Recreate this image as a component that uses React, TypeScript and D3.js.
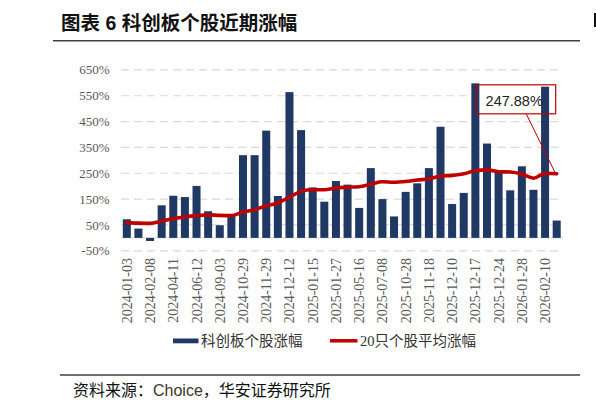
import React from "react";
import * as d3 from "d3";

const tickLabels = [
  "2024-01-03", "2024-02-08", "2024-04-11", "2024-06-12", "2024-09-03",
  "2024-10-29", "2024-11-29", "2024-12-12", "2025-01-15", "2025-01-27",
  "2025-05-16", "2025-07-08", "2025-10-28", "2025-11-18", "2025-12-10",
  "2025-12-17", "2025-12-24", "2026-01-28", "2026-02-10",
];

const barValues = [
  72, 36, -12, 126, 163, 158, 201, 103, 49, 85,
  320, 320, 415, 162, 564, 417, 195, 140, 220, 206,
  116, 270, 150, 83, 178, 211, 270, 430, 131, 174,
  598, 365, 259, 184, 277, 186, 585, 67,
];

const lineValues = [
  59, 57, 56, 65, 74, 81, 86, 89, 87, 86,
  100, 109, 124, 135, 158, 180, 187, 186, 193, 196,
  198, 208, 217, 215, 218, 224, 228, 239, 242, 248,
  260, 263, 256, 255, 247, 231, 250, 247.88,
];

const yTicks = [-50, 50, 150, 250, 350, 450, 550, 650];

const barName = "科创板个股涨幅";
const lineName = "20只个股平均涨幅";
const title = "图表 6 科创板个股近期涨幅";

const CJK = "'Noto Sans CJK SC', sans-serif";
const SERIF_ONLY = "'Liberation Serif', 'Times New Roman', Times, serif";
const SERIF = "'Liberation Serif', 'Times New Roman', 'Noto Sans CJK SC', serif";

export default function App() {
  const idx = barValues.map((_, i) => i);
  const x = d3.scaleBand<number>().domain(idx).range([121, 562.5]).paddingInner(0.31).paddingOuter(0.155);
  const y = d3.scaleLinear().domain([-50, 650]).range([250.8, 69.9]);
  const cx = (i: number) => (x(i) as number) + x.bandwidth() / 2;

  const line = d3
    .line<number>()
    .x((_, i) => cx(i))
    .y((d) => y(d))
    .curve(d3.curveMonotoneX);

  const lastI = lineValues.length - 1;
  const px = cx(lastI);
  const py = y(lineValues[lastI]);
  const boxW = 79.5;
  const boxH = 29;
  const boxX = px - 80.5;
  const boxY = py - 89;

  return (
    <svg
      width={596}
      height={408}
      style={{ position: "absolute", left: 0, top: 0, background: "#fff" }}
    >
      <rect x={0} y={0} width={596} height={408} fill="#fff" />
      {/* title */}
      <text x={61} y={30} fontSize={19.5} fontWeight="bold" fontFamily={"'Liberation Sans', " + CJK} fill="#111">
        {title}
      </text>
      <rect x={594} y={13} width={2} height={14} fill="#111" />
      <line x1={53} x2={580} y1={40.7} y2={40.7} stroke="#404040" strokeWidth={1.5} />

      {/* gridlines */}
      {yTicks.map((t) => (
        <line key={t} x1={121} x2={562.5} y1={y(t)} y2={y(t)} stroke="#d9d9d9" strokeWidth={1.2} strokeDasharray="8,5" />
      ))}
      <line x1={121} x2={562.5} y1={y(0)} y2={y(0)} stroke="#d9d9d9" strokeWidth={1} />
      {yTicks.map((t) => (
        <text key={"l" + t} x={109.5} y={y(t)} dy="0.35em" textAnchor="end" fontSize={13} fontFamily={SERIF_ONLY} fill="#595959">
          {t + "%"}
        </text>
      ))}

      {/* annotation box fill */}
      <rect x={boxX} y={boxY} width={boxW} height={boxH} fill="#fff" />

      {/* bars */}
      {barValues.map((v, i) => (
        <rect
          key={i}
          x={x(i)}
          y={y(Math.max(0, v))}
          width={x.bandwidth()}
          height={Math.abs(y(v) - y(0))}
          fill="#203864"
        />
      ))}

      {/* line */}
      <path d={line(lineValues) || ""} fill="none" stroke="#c00000" strokeWidth={3.6} strokeLinejoin="round" strokeLinecap="round" />

      {/* annotation */}
      <rect x={boxX} y={boxY} width={boxW} height={boxH} fill="none" stroke="#c00000" strokeWidth={1.2} />
      <line x1={boxX + 50} y1={boxY + boxH} x2={px - 1} y2={py} stroke="#c00000" strokeWidth={1} />
      <text x={boxX + 38} y={boxY + 21} textAnchor="middle" fontSize={14.5} fontFamily="'Liberation Sans', Arial, sans-serif" fill="#222">
        {lineValues[lastI].toFixed(2) + "%"}
      </text>

      {/* x labels */}
      {tickLabels.map((lab, k) => {
        const i = k * 2;
        return (
          <text
            key={lab}
            transform={`translate(${cx(i) + 5},${258}) rotate(-90)`}
            textAnchor="end"
            fontSize={14}
            fontFamily={SERIF_ONLY}
            fill="#595959"
          >
            {lab}
          </text>
        );
      })}

      {/* legend */}
      <rect x={173} y={338.5} width={25.5} height={4.8} fill="#203864" />
      <text x={201} y={345.5} fontSize={14.5} fontFamily={CJK} fill="#333">{barName}</text>
      <line x1={330} x2={357.5} y1={340.8} y2={340.8} stroke="#c00000" strokeWidth={3.5} />
      <text x={360} y={345.5} fontSize={14.5} fontFamily={SERIF} fill="#333">{lineName}</text>

      {/* footer */}
      <line x1={60} x2={580} y1={375} y2={375} stroke="#404040" strokeWidth={1.5} />
      <text x={73} y={396} fontSize={16} fontFamily={CJK} fill="#111">
        <tspan>资料来源：</tspan>
        <tspan fill="#3d3826" fontFamily="'Liberation Sans', Arial, sans-serif">Choice</tspan>
        <tspan>，华安证券研究所</tspan>
      </text>
    </svg>
  );
}
